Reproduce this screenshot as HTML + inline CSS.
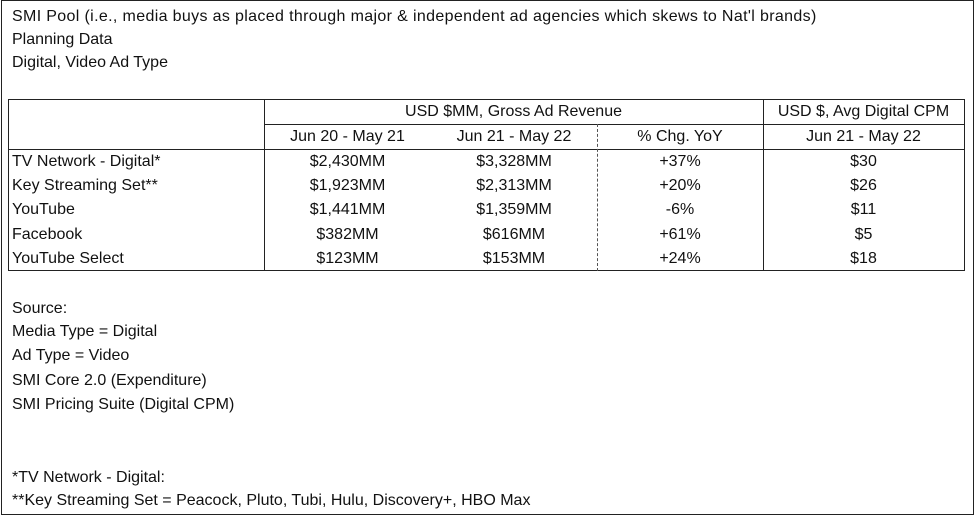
<!DOCTYPE html>
<html><head><meta charset="utf-8"><style>
body{margin:0;width:976px;height:518px;background:#fff;position:relative;overflow:hidden;font-family:"Liberation Sans",sans-serif;font-size:16px;color:#111}
.frame{position:absolute;left:1px;top:0;width:971px;height:513px;border:1.5px solid #222}
.t{position:absolute;left:12px;white-space:nowrap;line-height:18px}
.c{position:absolute;text-align:center;white-space:nowrap;line-height:24px}
.hl{position:absolute;height:0;border-top:1.5px solid #222}
.vl{position:absolute;width:0;border-left:1.5px solid #222}
</style></head><body>
<div class="frame"></div>
<div class="t" style="top:8px;letter-spacing:0.35px">SMI Pool (i.e., media buys as placed through major &amp; independent ad agencies which skews to Nat'l brands)</div>
<div class="t" style="top:31px">Planning Data</div>
<div class="t" style="top:54px">Digital, Video Ad Type</div>

<div>
<div class="hl" style="left:8px;top:99px;width:957px"></div>
<div class="hl" style="left:264px;top:124px;width:701px"></div>
<div class="hl" style="left:8px;top:149px;width:957px"></div>
<div class="hl" style="left:8px;top:270px;width:957px"></div>
<div class="vl" style="left:8px;top:99px;height:172px"></div>
<div class="vl" style="left:264px;top:99px;height:172px"></div>
<div class="vl" style="left:763px;top:99px;height:172px"></div>
<div class="vl" style="left:964px;top:99px;height:172px"></div>
<div style="position:absolute;left:597px;top:124px;height:147px;border-left:1px dashed #555"></div>
<div class="c" style="left:264px;width:499px;top:100px">USD $MM, Gross Ad Revenue</div>
<div class="c" style="left:763px;width:201px;top:100px">USD $, Avg Digital CPM</div>
<div class="c" style="left:264px;width:167px;top:125px">Jun 20 - May 21</div>
<div class="c" style="left:431px;width:166px;top:125px">Jun 21 - May 22</div>
<div class="c" style="left:597px;width:166px;top:125px">% Chg. YoY</div>
<div class="c" style="left:763px;width:201px;top:125px">Jun 21 - May 22</div>
<div id="rows"></div>
</div>

<div class="t" style="top:300px">Source:</div>
<div class="t" style="top:323px">Media Type = Digital</div>
<div class="t" style="top:347px">Ad Type = Video</div>
<div class="t" style="top:372px">SMI Core 2.0 (Expenditure)</div>
<div class="t" style="top:396px">SMI Pricing Suite (Digital CPM)</div>
<div class="t" style="top:469px">*TV Network - Digital:</div>
<div class="t" style="top:492px">**Key Streaming Set = Peacock, Pluto, Tubi, Hulu, Discovery+, HBO Max</div>

<script>
const names=["TV Network - Digital*","Key Streaming Set**","YouTube","Facebook","YouTube Select"];
const rev2021=["$2,430MM","$1,923MM","$1,441MM","$382MM","$123MM"];
const rev2022=["$3,328MM","$2,313MM","$1,359MM","$616MM","$153MM"];
const yoy=["+37%","+20%","-6%","+61%","+24%"];
const cpm=["$30","$26","$11","$5","$18"];
const rows=document.getElementById('rows');
const cols=[[12,250,'left'],[264,167,'center'],[431,166,'center'],[597,166,'center'],[763,201,'center']];
names.forEach((n,i)=>{
  const vals=[n,rev2021[i],rev2022[i],yoy[i],cpm[i]];
  vals.forEach((v,j)=>{
    const d=document.createElement('div');
    d.className='c';
    
    
    d.style.left=cols[j][0]+'px';d.style.width=cols[j][1]+'px';d.style.textAlign=cols[j][2];
    d.style.top=(150+i*24.2)+'px';
    d.textContent=v;rows.appendChild(d);
  });
});
</script>
</body></html>
